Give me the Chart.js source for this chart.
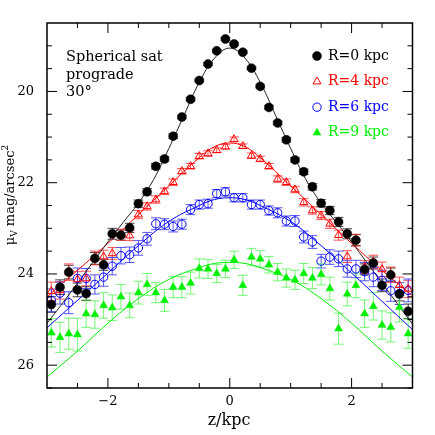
<!DOCTYPE html>
<html>
<head>
<meta charset="utf-8">
<script src="https://cdn.jsdelivr.net/npm/chart.js@4/dist/chart.umd.min.js"></script>
<style>
  html, body { margin: 0; padding: 0; background: #fff; }
  #wrap { width: 435px; height: 435px; }
</style>
</head>
<body>
<div id="wrap"><canvas id="profileChart" width="435" height="435"></canvas></div>
<script>
// z bin centres (kpc)
const zBins = [
  -2.929, -2.786, -2.643, -2.500, -2.357, -2.214, -2.071, -1.929, -1.786, -1.643, -1.500,
  -1.357, -1.214, -1.071, -0.929, -0.786, -0.643, -0.500, -0.357, -0.214, -0.071,
   0.071,  0.214,  0.357,  0.500,  0.643,  0.786,  0.929,  1.071,  1.214,  1.357,
   1.500,  1.643,  1.786,  1.929,  2.071,  2.214,  2.357,  2.500,  2.643,  2.786, 2.929
];

// surface brightness, mag/arcsec^2
const muR0 = [
  24.67, 24.29, 23.96, 24.35, 24.43, 23.66, 23.80, 23.12, 23.15, 22.99, 22.46,
  22.20, 21.64, 21.48, 20.98, 20.56, 20.17, 19.76, 19.40, 19.11, 18.85,
  18.96, 19.14, 19.49, 19.89, 20.35, 20.69, 21.06, 21.50, 21.76, 22.09,
  22.45, 22.61, 22.86, 23.12, 23.26, 23.90, 23.76, 24.25, 24.02, 24.44, 24.82
];
const errR0 = [
  0.17, 0.16, 0.15, 0.15, 0.15, 0.13, 0.12, 0.12, 0.11, 0.10, 0.08,
  0.07, 0.06, 0.05, 0.05, 0.04, 0.04, 0.03, 0.03, 0.03, 0.03,
  0.03, 0.03, 0.03, 0.03, 0.04, 0.04, 0.05, 0.05, 0.06, 0.07,
  0.08, 0.09, 0.10, 0.11, 0.12, 0.12, 0.13, 0.14, 0.15, 0.15, 0.16
];

const muR4 = [
  24.38, 24.36, 23.96, 24.12, 24.10, 23.65, 23.62, 23.55, 23.14, 23.16, 22.70,
  22.52, 22.37, 22.19, 21.99, 21.75, 21.64, 21.42, 21.36, 21.29, 21.21,
  21.05, 21.20, 21.41, 21.48, 21.64, 21.92, 21.99, 22.15, 22.43, 22.61,
  22.72, 22.90, 23.15, 23.62, 23.26, 23.85, 23.74, 23.90, 24.02, 24.25, 24.33
];
const errR4 = [
  0.20, 0.19, 0.18, 0.17, 0.16, 0.15, 0.14, 0.13, 0.12, 0.11, 0.09,
  0.08, 0.08, 0.07, 0.07, 0.06, 0.06, 0.06, 0.06, 0.05, 0.05,
  0.05, 0.05, 0.06, 0.06, 0.06, 0.07, 0.07, 0.07, 0.08, 0.08,
  0.09, 0.10, 0.11, 0.13, 0.13, 0.14, 0.15, 0.16, 0.17, 0.18, 0.19
];

const muR6 = [
  24.58, 24.42, 24.63, 24.10, 24.10, 24.23, 24.07, 23.83, 23.60, 23.58, 23.43,
  23.23, 22.90, 22.91, 22.96, 22.91, 22.59, 22.48, 22.46, 22.24, 22.20,
  22.33, 22.33, 22.48, 22.48, 22.61, 22.66, 22.84, 22.84, 23.19, 23.30,
  23.72, 23.63, 23.67, 23.89, 23.89, 23.95, 24.07, 24.14, 24.37, 24.43, 24.36
];
const errR6 = [
  0.25, 0.24, 0.24, 0.23, 0.22, 0.21, 0.20, 0.19, 0.18, 0.17, 0.16,
  0.14, 0.13, 0.12, 0.12, 0.11, 0.11, 0.10, 0.10, 0.09, 0.09,
  0.09, 0.09, 0.10, 0.10, 0.10, 0.11, 0.11, 0.12, 0.13, 0.14,
  0.15, 0.16, 0.17, 0.18, 0.19, 0.20, 0.21, 0.22, 0.23, 0.24, 0.25
];

const muR9 = [
  25.29, 25.39, 25.31, 25.33, 24.87, 24.89, 24.69, 24.74, 24.50, 24.69, 24.41,
  24.23, 24.41, 24.58, 24.29, 24.29, 24.20, 23.88, 23.89, 23.99, 23.89,
  23.69, 24.25, 23.63, 23.67, 23.80, 23.96, 24.09, 24.13, 23.99, 24.09,
  24.01, 24.32, 25.20, 24.44, 24.25, 24.87, 24.71, 25.12, 25.17, 24.73, 25.31
];
const errR9 = [
  0.31, 0.33, 0.34, 0.36, 0.30, 0.30, 0.28, 0.28, 0.27, 0.27, 0.25,
  0.24, 0.22, 0.24, 0.23, 0.23, 0.24, 0.21, 0.21, 0.20, 0.19,
  0.19, 0.22, 0.19, 0.18, 0.18, 0.19, 0.20, 0.21, 0.22, 0.23,
  0.23, 0.25, 0.34, 0.26, 0.27, 0.30, 0.30, 0.31, 0.32, 0.32, 0.32
];

// model curves
const fitZBlack = [-3, -2.75, -2.5, -2.25, -2, -1.75, -1.5, -1.25, -1, -0.75, -0.5, -0.25, 0,
                   0.25, 0.5, 0.75, 1, 1.25, 1.5, 1.75, 2, 2.25, 2.5, 2.75, 3];
const fitR0 = [25.08, 24.65, 24.20, 23.75, 23.30, 22.87, 22.45, 21.93, 21.25, 20.52, 19.80, 19.27, 19.05,
               19.27, 19.80, 20.52, 21.25, 21.93, 22.45, 22.87, 23.30, 23.75, 24.20, 24.65, 25.10];
const fitZ = [-3, -2.5, -2, -1.5, -1, -0.5, -0.25, 0, 0.25, 0.5, 1, 1.5, 2, 2.5, 3];
const fitR4 = [24.50, 23.92, 23.33, 22.70, 22.07, 21.45, 21.21, 21.13, 21.21, 21.45, 22.07, 22.70, 23.33, 23.92, 24.48];
const fitR6 = [25.18, 24.58, 23.98, 23.38, 22.85, 22.50, 22.37, 22.33, 22.37, 22.50, 22.85, 23.38, 23.98, 24.60, 25.22];
const fitR9 = [26.26, 25.69, 25.08, 24.54, 24.12, 23.86, 23.77, 23.75, 23.77, 23.86, 24.12, 24.54, 25.08, 25.69, 26.26];

const xTicks = [-2, 0, 2];
const yTicks = [20, 22, 24, 26];
const xMinorTicks = [-2.5, -1.5, -1, -0.5, 0.5, 1, 1.5, 2.5];
const yMinorTicks = [19, 19.5, 20.5, 21, 21.5, 22.5, 23, 23.5, 24.5, 25, 25.5, 26.5];
const seriesLabels = ['R=0 kpc', 'R=4 kpc', 'R=6 kpc', 'R=9 kpc'];
const panelNotes = ['Spherical sat', 'prograde', '30°'];

const FONT = '"DejaVu Serif", serif';

const series = [
  { label: seriesLabels[0], mu: muR0, err: errR0, color: '#000000', barColor: 'rgba(0,0,0,0.75)',
    style: 'circle', radius: 4.5, fill: true, fitZ: fitZBlack, fit: fitR0, lineColor: '#222222' },
  { label: seriesLabels[1], mu: muR4, err: errR4, color: '#ff0000', barColor: 'rgba(255,30,30,0.75)',
    style: 'triangle', radius: 4.6, fill: false, fitZ: fitZ, fit: fitR4, lineColor: '#ff0000' },
  { label: seriesLabels[2], mu: muR6, err: errR6, color: '#0000ff', barColor: 'rgba(30,30,255,0.75)',
    style: 'circle', radius: 4.2, fill: false, fitZ: fitZ, fit: fitR6, lineColor: '#0000ff' },
  { label: seriesLabels[3], mu: muR9, err: errR9, color: '#00f000', barColor: 'rgba(60,245,60,0.7)',
    style: 'triangle', radius: 4.6, fill: true, fitZ: fitZ, fit: fitR9, lineColor: '#00f000' }
];

function buildDatasets() {
  const points = series.map(s => ({
    label: s.label,
    data: zBins.map((z, i) => ({ x: z, y: s.mu[i] })),
    errors: s.err,
    barColor: s.barColor,
    showLine: false,
    pointStyle: s.style,
    pointRadius: s.radius,
    pointBackgroundColor: s.fill ? s.color : 'rgba(0,0,0,0)',
    pointBorderColor: s.color,
    pointBorderWidth: s.fill ? 0.5 : 1,
    order: 1
  }));
  const fits = series.map(s => ({
    label: s.label + ' fit',
    data: s.fitZ.map((z, i) => ({ x: z, y: s.fit[i] })),
    showLine: true,
    borderColor: s.lineColor,
    borderWidth: 1,
    pointRadius: 0,
    tension: 0.4,
    fill: false,
    order: 2
  }));
  return points.concat(fits);
}

// vertical error bars with caps, drawn under the markers
const errorBarsPlugin = {
  id: 'errorBars',
  beforeDatasetsDraw(chart) {
    const ctx = chart.ctx;
    const xs = chart.scales.x;
    const ys = chart.scales.y;
    const area = chart.chartArea;
    const cap = 4.8;
    ctx.save();
    ctx.beginPath();
    ctx.rect(area.left, area.top, area.right - area.left, area.bottom - area.top);
    ctx.clip();
    ctx.lineWidth = 1;
    chart.data.datasets.forEach(ds => {
      if (!ds.errors) return;
      ctx.strokeStyle = ds.barColor;
      ds.data.forEach((p, i) => {
        const e = ds.errors[i];
        const x = xs.getPixelForValue(p.x);
        const y1 = ys.getPixelForValue(p.y - e);
        const y2 = ys.getPixelForValue(p.y + e);
        ctx.beginPath();
        ctx.moveTo(x, y1);
        ctx.lineTo(x, y2);
        ctx.moveTo(x - cap, y1);
        ctx.lineTo(x + cap, y1);
        ctx.moveTo(x - cap, y2);
        ctx.lineTo(x + cap, y2);
        ctx.stroke();
      });
    });
    ctx.restore();
  }
};

// box frame with inward ticks on all four sides
const frameTicksPlugin = {
  id: 'frameTicks',
  afterDraw(chart) {
    const ctx = chart.ctx;
    const { left, right, top, bottom } = chart.chartArea;
    const xs = chart.scales.x;
    const ys = chart.scales.y;
    const major = 10;
    const minor = 5;
    ctx.save();
    ctx.strokeStyle = '#000';
    ctx.lineWidth = 1.5;
    ctx.strokeRect(left, top, right - left, bottom - top);
    ctx.lineWidth = 1;
    ctx.beginPath();
    const xTick = (v, len) => {
      const x = xs.getPixelForValue(v);
      ctx.moveTo(x, bottom); ctx.lineTo(x, bottom - len);
      ctx.moveTo(x, top); ctx.lineTo(x, top + len);
    };
    const yTick = (v, len) => {
      const y = ys.getPixelForValue(v);
      ctx.moveTo(left, y); ctx.lineTo(left + len, y);
      ctx.moveTo(right, y); ctx.lineTo(right - len, y);
    };
    xTicks.forEach(v => xTick(v, major));
    xMinorTicks.forEach(v => xTick(v, minor));
    yTicks.forEach(v => yTick(v, major));
    yMinorTicks.forEach(v => yTick(v, minor));
    ctx.stroke();
    ctx.restore();
  }
};

// legend, panel notes and axis titles
const annotationsPlugin = {
  id: 'annotations',
  afterDraw(chart) {
    const ctx = chart.ctx;
    ctx.save();
    ctx.textBaseline = 'middle';
    ctx.textAlign = 'left';

    ctx.font = '14.5px ' + FONT;
    ctx.fillStyle = '#000';
    panelNotes.forEach((t, i) => ctx.fillText(t, 66, 57 + i * 17.8));

    series.forEach((s, i) => {
      const y = 56 + i * 25.6;
      ctx.fillStyle = s.fill ? s.color : 'rgba(0,0,0,0)';
      ctx.strokeStyle = s.color;
      ctx.lineWidth = s.fill ? 0.5 : 1;
      Chart.helpers.drawPoint(ctx, { pointStyle: s.style, radius: s.radius, borderWidth: ctx.lineWidth }, 317, y);
      ctx.fillStyle = s.color;
      ctx.font = '14px ' + FONT;
      ctx.fillText(s.label, 328, y);
    });

    // x title
    ctx.fillStyle = '#000';
    ctx.textAlign = 'center';
    ctx.font = '16px ' + FONT;
    ctx.fillText('z/kpc', 229, 421);

    // y title: mu_V mag/arcsec^2
    ctx.translate(14, 195);
    ctx.rotate(-Math.PI / 2);
    ctx.textAlign = 'left';
    ctx.textBaseline = 'alphabetic';
    const big = '13px ' + FONT;
    const small = '9px ' + FONT;
    const parts = [
      { t: 'μ', f: big, dy: 0 },
      { t: 'V', f: small, dy: 3 },
      { t: ' mag/arcsec', f: big, dy: 0 },
      { t: '2', f: small, dy: -6 }
    ];
    let total = 0;
    parts.forEach(p => { ctx.font = p.f; p.w = ctx.measureText(p.t).width; total += p.w; });
    let x = -total / 2;
    parts.forEach(p => {
      ctx.font = p.f;
      ctx.fillText(p.t, x, p.dy);
      x += p.w;
    });
    ctx.restore();
  }
};

function buildOptions() {
  const tickFont = { family: FONT, size: 13 };
  return {
    responsive: false,
    devicePixelRatio: 1,
    animation: false,
    layout: { padding: { left: 0, right: 22.5, top: 23, bottom: 0 } },
    plugins: {
      legend: { display: false },
      tooltip: { enabled: false }
    },
    scales: {
      x: {
        type: 'linear',
        min: -3,
        max: 3,
        grid: { display: false, drawTicks: false },
        border: { display: false },
        afterBuildTicks: scale => { scale.ticks = xTicks.map(v => ({ value: v })); },
        afterFit: scale => { scale.height = 47; },
        ticks: {
          font: tickFont,
          color: '#000',
          padding: 6,
          maxRotation: 0,
          callback: v => (v < 0 ? '\u2212' + Math.abs(v) : String(v))
        }
      },
      y: {
        type: 'linear',
        min: 18.5,
        max: 26.5,
        reverse: true,
        grid: { display: false, drawTicks: false },
        border: { display: false },
        afterBuildTicks: scale => { scale.ticks = yTicks.map(v => ({ value: v })); },
        afterFit: scale => { scale.width = 47; },
        ticks: {
          font: tickFont,
          color: '#000',
          padding: 13,
          callback: v => String(v)
        }
      }
    }
  };
}

const chart = new Chart(document.getElementById('profileChart').getContext('2d'), {
  type: 'scatter',
  data: { datasets: buildDatasets() },
  options: buildOptions(),
  plugins: [errorBarsPlugin, frameTicksPlugin, annotationsPlugin]
});
</script>
</body>
</html>
